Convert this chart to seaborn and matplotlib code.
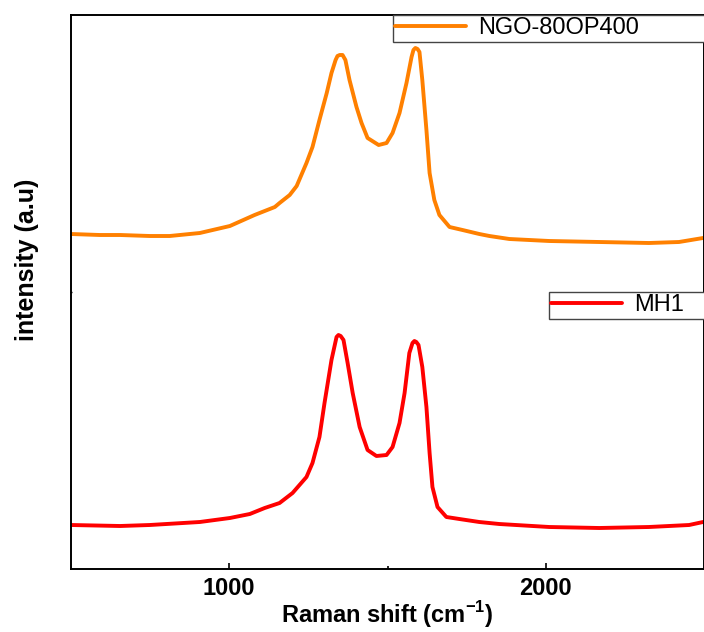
import matplotlib
matplotlib.use("Agg")
import matplotlib.pyplot as plt
import numpy as np
import pandas as pd
import seaborn as sns
from matplotlib.lines import Line2D

# Raman shift (cm-1) and intensity (a.u.)
ngo_shift = [500, 591, 655, 749, 812, 907, 1002, 1080, 1144, 1159, 1191, 1213,
             1244, 1263, 1285, 1308, 1323, 1336, 1342, 1349, 1358, 1367, 1380,
             1402, 1418, 1437, 1472, 1497, 1516, 1538, 1560, 1576, 1582, 1588,
             1595, 1601, 1610, 1623, 1633, 1648, 1664, 1696, 1737, 1790, 1822,
             1885, 2011, 2169, 2326, 2421, 2497]
ngo_int = [338, 337, 337, 336, 336, 339, 346, 357, 365, 369, 377, 386, 409,
           425, 452, 479, 499, 512, 516, 517, 517, 512, 492, 465, 449, 434,
           427, 429, 439, 459, 489, 515, 522, 524, 523, 520, 492, 442, 399,
           372, 357, 345, 342, 338, 336, 333, 331, 330, 329, 330, 334]
mh1_shift = [500, 655, 749, 907, 1002, 1065, 1112, 1159, 1200, 1244, 1263,
             1285, 1301, 1323, 1339, 1345, 1352, 1361, 1374, 1390, 1412, 1437,
             1465, 1497, 1516, 1538, 1554, 1569, 1579, 1585, 1591, 1598, 1610,
             1623, 1633, 1642, 1658, 1686, 1727, 1790, 1853, 2011, 2169, 2326,
             2453, 2497]
mh1_int = [47, 46, 47, 50, 54, 58, 64, 69, 79, 95, 109, 135, 169, 212, 235,
           237, 236, 232, 209, 179, 145, 122, 116, 117, 125, 149, 179, 219,
           229, 231, 230, 227, 205, 165, 119, 85, 65, 55, 53, 50, 48, 45, 44,
           45, 47, 50]

df = pd.concat([
    pd.DataFrame({"shift": ngo_shift, "intensity": ngo_int, "sample": "NGO-80OP400"}),
    pd.DataFrame({"shift": mh1_shift, "intensity": mh1_int, "sample": "MH1"}),
])
colors = {"NGO-80OP400": "#FF8000", "MH1": "#FF0000"}

sns.set_style("ticks")
plt.rcParams["font.family"] = ["Liberation Sans", "DejaVu Sans"]
plt.rcParams["mathtext.fontset"] = "custom"
plt.rcParams["mathtext.bf"] = "Liberation Sans:bold"
plt.rcParams["mathtext.rm"] = "Liberation Sans"
for key in ["text.color", "axes.labelcolor", "xtick.color", "ytick.color"]:
    plt.rcParams[key] = "black"

fig = plt.figure(figsize=(7.04, 6.32), dpi=100)
ax = fig.add_axes([71 / 704, 63 / 632, 1 - 71 / 704, 554 / 632])

sns.lineplot(data=df, x="shift", y="intensity", hue="sample", palette=colors,
             linewidth=2.8, legend=False, ax=ax, sort=False)
for ln in ax.lines:
    ln.set_solid_joinstyle("round")

ax.set_xlim(500, 2500)
ax.set_ylim(3, 557)
ax.set_xticks([1000, 2000])
ax.set_xticks([1500], minor=True)
ax.set_yticks([280])
ax.set_yticklabels([])
ax.tick_params(axis="x", direction="in", width=1.2, length=4.5, labelsize=17, pad=6)
ax.tick_params(axis="x", which="minor", direction="in", width=1.2, length=2.5)
ax.tick_params(axis="y", direction="inout", width=1.0, length=2)
for lab in ax.get_xticklabels():
    lab.set_fontweight("bold")
for s in ax.spines.values():
    s.set_linewidth(1.4)
    s.set_color("black")

ax.set_xlabel("Raman shift (cm$^{\\mathbf{-1}}$)", fontsize=17, fontweight="bold")
ax.xaxis.set_label_coords(0.5, -0.054)
ax.xaxis.label.set_va("top")
ax.set_ylabel("intensity (a.u)", fontsize=18, fontweight="bold")
ax.yaxis.set_label_coords(-0.05, 0.558)

legs = []
for name, anchor in [("NGO-80OP400", (322 / 633, 0.955, 0.5, 0.045)),
                     ("MH1", (478 / 633, 0.455, 0.3, 0.045))]:
    h = Line2D([], [], color=colors[name], linewidth=2.8)
    leg = ax.legend([h], [name], loc="upper left", bbox_to_anchor=anchor,
                    mode="expand", fontsize=17, frameon=True, fancybox=False,
                    framealpha=1, edgecolor="#444444", handlelength=3.0,
                    borderpad=0.1, borderaxespad=0, handletextpad=0.5,
                    labelcolor="black")
    leg.get_frame().set_linewidth(1.0)
    legs.append(leg)
ax.add_artist(legs[0])

fig.savefig("out.png", dpi=100)
